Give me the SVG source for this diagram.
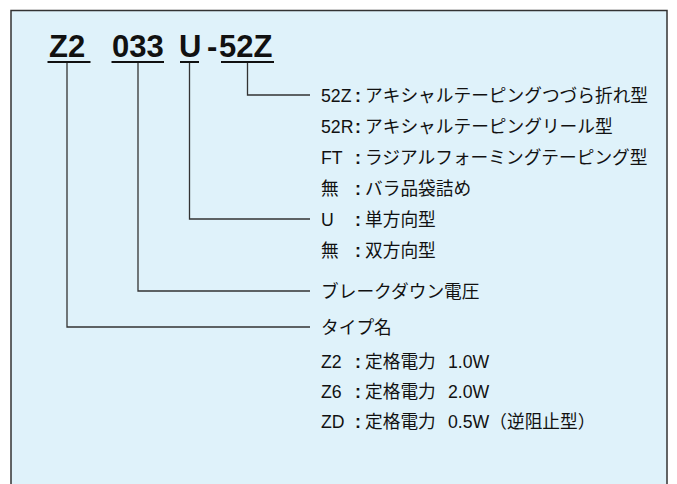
<svg xmlns="http://www.w3.org/2000/svg" width="677" height="484" viewBox="0 0 677 484">
<style>
.frame{fill:#dff2fa;stroke:#333;stroke-width:1.5}
.code{font-family:"Liberation Sans",Arial,sans-serif;font-weight:bold;font-size:31px;fill:#111}
.ul{stroke:#111;stroke-width:2}
.conn{fill:none;stroke:#333;stroke-width:1.3}
.lbl{font-family:"Liberation Sans","Noto Sans CJK JP",sans-serif;font-size:17.7px;fill:#111}
.col{font-weight:bold}
</style>
<rect class="frame" x="11" y="10.5" width="656" height="490"/>
<g id="code">
<text class="code" x="49" y="56.5">Z2</text>
<text class="code" x="112" y="56.5">033</text>
<text class="code" x="179" y="56.5">U</text>
<text class="code" x="207" y="56.5">-</text>
<text class="code" x="219" y="56.5">52Z</text>
<line class="ul" x1="47.5" y1="62" x2="90.5" y2="62"/>
<line class="ul" x1="111.5" y1="62" x2="164" y2="62"/>
<line class="ul" x1="180" y1="62" x2="199" y2="62"/>
<line class="ul" x1="221" y1="62" x2="274" y2="62"/>
</g>
<g id="connectors">
<path class="conn" d="M67 63V327H310"/>
<path class="conn" d="M138 63V291H310"/>
<path class="conn" d="M189.5 63V219H310"/>
<path class="conn" d="M247.5 63V95H310"/>
</g>
<g id="packaging" class="lbl">
<text y="101.5"><tspan x="321">52Z</tspan><tspan x="355" class="col">:</tspan><tspan x="365">アキシャルテーピングつづら折れ型</tspan></text>
<text y="132.5"><tspan x="321">52R</tspan><tspan x="355" class="col">:</tspan><tspan x="365">アキシャルテーピングリール型</tspan></text>
<text y="163.5"><tspan x="321">FT</tspan><tspan x="355" class="col">:</tspan><tspan x="365">ラジアルフォーミングテーピング型</tspan></text>
<text y="194.5"><tspan x="321">無</tspan><tspan x="355" class="col">:</tspan><tspan x="365">バラ品袋詰め</tspan></text>
</g>
<g id="direction" class="lbl">
<text y="225.5"><tspan x="321">U</tspan><tspan x="355" class="col">:</tspan><tspan x="365">単方向型</tspan></text>
<text y="256.5"><tspan x="321">無</tspan><tspan x="355" class="col">:</tspan><tspan x="365">双方向型</tspan></text>
</g>
<g id="voltage" class="lbl">
<text x="321" y="297.5">ブレークダウン電圧</text>
</g>
<g id="type" class="lbl">
<text x="321" y="333.5">タイプ名</text>
<text y="367.5"><tspan x="321">Z2</tspan><tspan x="355" class="col">:</tspan><tspan x="365">定格電力</tspan><tspan x="448">1.0W</tspan></text>
<text y="397.5"><tspan x="321">Z6</tspan><tspan x="355" class="col">:</tspan><tspan x="365">定格電力</tspan><tspan x="448">2.0W</tspan></text>
<text y="427.5"><tspan x="321">ZD</tspan><tspan x="355" class="col">:</tspan><tspan x="365">定格電力</tspan><tspan x="448">0.5W（逆阻止型）</tspan></text>
</g>
</svg>
